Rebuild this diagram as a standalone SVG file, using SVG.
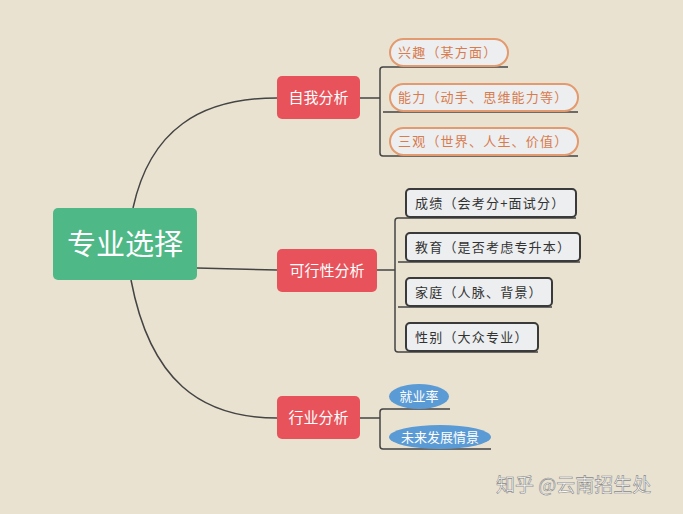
<svg xmlns="http://www.w3.org/2000/svg" width="683" height="514" viewBox="0 0 683 514">
<style>
text{font-family:"Noto Sans CJK SC","Noto Sans",sans-serif}
.ln{fill:none;stroke:#444;stroke-width:1.5}
.red{fill:#e8535b}
.rt{fill:#fff;font-size:15px}
.pill{fill:#eceef0;stroke:#e39a6e;stroke-width:2}
.pt{fill:#d97b4d;font-size:13px;letter-spacing:1.2px}
.box{fill:#eceef0;stroke:#3a3a3a;stroke-width:2}
.bt{fill:#333;font-size:13px;letter-spacing:1.2px}
.blue{fill:#5b9bd5}
.bw{fill:#fff;font-size:13px}
</style>
<rect width="683" height="514" fill="#e9e2d0"/>
<g id="connectors">
<path class="ln" d="M133,208 C150,130 200,98 277,98"/>
<path class="ln" d="M197,268 L277,270"/>
<path class="ln" d="M131,280 C150,380 200,418 277,418"/>
<path class="ln" d="M360,98 H380 M383,67 H508 M383,112 H578 M383,156 H578 M383,67 Q380,67 380,70 V153 Q380,156 383,156"/>
<path class="ln" d="M377,270 H395 M398,218 H576 M398,262 H580 M398,307 H552 M398,352 H538 M398,218 Q395,218 395,221 V349 Q395,352 398,352"/>
<path class="ln" d="M360,418 H380 M383,409 H450 M383,449 H491 M383,409 Q380,409 380,412 V446 Q380,449 383,449"/>
</g>
<g id="center"><rect x="53" y="208" width="144" height="72" rx="5" fill="#4fb887"/><text x="125" y="255" text-anchor="middle" fill="#fff" font-size="29">专业选择</text></g>
<g id="n1"><rect class="red" x="277" y="76" width="83" height="43" rx="5"/><text class="rt" x="318.5" y="103" text-anchor="middle">自我分析</text></g>
<g id="n2"><rect class="red" x="277" y="249" width="100" height="43" rx="5"/><text class="rt" x="327" y="276" text-anchor="middle">可行性分析</text></g>
<g id="n3"><rect class="red" x="277" y="396" width="83" height="43" rx="5"/><text class="rt" x="318.5" y="423" text-anchor="middle">行业分析</text></g>
<g id="c1"><rect class="pill" x="390" y="39" width="118" height="27" rx="13.5"/><text class="pt" x="398" y="57">兴趣（某方面）</text></g>
<g id="c2"><rect class="pill" x="390" y="84" width="188" height="27" rx="13.5"/><text class="pt" x="398" y="102">能力（动手、思维能力等）</text></g>
<g id="c3"><rect class="pill" x="390" y="128" width="188" height="27" rx="13.5"/><text class="pt" x="398" y="146">三观（世界、人生、价值）</text></g>
<g id="d1"><rect class="box" x="406" y="189" width="170" height="28" rx="4"/><text class="bt" x="415" y="208">成绩（会考分+面试分）</text></g>
<g id="d2"><rect class="box" x="406" y="233" width="174" height="28" rx="4"/><text class="bt" x="415" y="252">教育（是否考虑专升本）</text></g>
<g id="d3"><rect class="box" x="406" y="278" width="146" height="28" rx="4"/><text class="bt" x="415" y="297">家庭（人脉、背景）</text></g>
<g id="d4"><rect class="box" x="406" y="323" width="132" height="28" rx="4"/><text class="bt" x="415" y="342">性别（大众专业）</text></g>
<g id="e1"><ellipse class="blue" cx="419" cy="396.5" rx="30" ry="12.5"/><text class="bw" x="419" y="401" text-anchor="middle">就业率</text></g>
<g id="e2"><ellipse class="blue" cx="440" cy="437" rx="51" ry="12"/><text class="bw" x="440" y="442" text-anchor="middle">未来发展情景</text></g>
<text x="496" y="492" fill="#fff" font-size="19" stroke="#888" stroke-width="0.6">知乎 @云南招生处</text>
</svg>
